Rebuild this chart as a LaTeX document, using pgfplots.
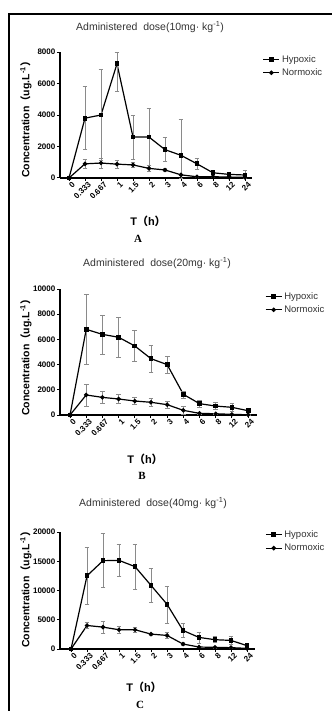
\documentclass[border=0pt]{standalone}
\usepackage{fontspec}
\setmainfont{Liberation Sans}
\newfontfamily\cjk{Noto Sans CJK SC}
\newfontfamily\serifb{Liberation Serif}
\usepackage{pgfplots}
\pgfplotsset{compat=1.18}
\usepackage{pgfplotstable}

\pgfplotstableread{
x hy hep hem no nep nem
0 0 0 0 0 0 0
1 3800 2000 2000 900 260 260
2 4000 2900 2900 950 310 310
3 7250 750 1750 880 250 250
4 2600 1400 1400 830 150 150
5 2600 1800 1800 610 200 200
6 1800 770 770 510 100 100
7 1440 2280 1440 200 60 60
8 900 370 370 80 40 40
9 330 150 150 80 30 30
10 230 110 110 60 30 30
11 190 290 190 40 20 20
}\dataA

\pgfplotstableread{
x hy hep hem no nep nem
0 0 0 0 0 0 0
1 6800 2750 2750 1590 880 880
2 6400 1550 1550 1400 470 470
3 6170 1600 1600 1270 380 380
4 5480 1250 1250 1110 280 280
5 4470 1080 1080 1010 330 330
6 4000 680 680 820 250 250
7 1640 280 280 370 350 350
8 900 250 250 130 40 40
9 710 280 280 100 30 30
10 610 300 300 50 20 20
11 340 100 100 20 10 10
}\dataB

\pgfplotstableread{
x hy hep hem no nep nem
0 0 0 0 0 0 0
1 12520 4800 4800 4020 500 500
2 15100 4700 4600 3740 1050 1050
3 15150 2700 2700 3290 550 550
4 14080 3900 3850 3290 400 400
5 10870 3000 2950 2550 200 200
6 7650 3100 3200 2320 500 500
7 3170 1250 1250 850 300 300
8 1980 950 950 340 100 100
9 1590 500 500 280 80 80
10 1470 650 650 230 60 60
11 570 200 200 110 50 50
}\dataC

\definecolor{txt}{HTML}{333333}
\definecolor{errc}{HTML}{8A8A8A}

\pgfplotsset{
  panel/.style={
    scale only axis,
    axis x line*=bottom, axis y line*=left,
    clip=false,
    ymin=0,
    tick align=outside,
    major tick length=3pt,
    every tick/.style={black, line width=1pt},
    axis line style={black, line width=1.3pt},
    xtick={0,...,11},
    xticklabels={0,0.333,0.667,1,1.5,2,3,4,6,8,12,24},
    xticklabel style={rotate=45, anchor=east, font=\bfseries\fontsize{8}{9}\selectfont, inner sep=0.5pt, yshift=-5pt, xshift=2pt},
    yticklabel style={font=\bfseries\fontsize{8}{9}\selectfont, inner sep=1.5pt},
    scaled y ticks=false,
    /pgf/number format/assume math mode=true,
    /pgf/number format/1000 sep={},
    legend style={draw=none, fill=none, font=\fontsize{9.5}{10}\selectfont\color{txt},
      legend cell align=left, row sep=1pt, anchor=north west, inner sep=1pt},
    legend image code/.code={\draw[mark repeat=2,mark phase=2] plot coordinates {(0pt,0pt)(8pt,0pt)(16pt,0pt)};},
  },
  hyp/.style={black, line width=1.2pt, mark=square*, mark size=1.8pt, mark options={solid},
    error bars/.cd, y dir=both, y explicit,
    error bar style={errc, line width=0.6pt},
    error mark options={errc, rotate=90, mark size=2.4pt, line width=0.6pt}},
  nor/.style={black, line width=1.2pt, mark=*, mark size=1.6pt, mark options={solid},
    error bars/.cd, y dir=both, y explicit,
    error bar style={errc, line width=0.6pt},
    error mark options={errc, rotate=90, mark size=2.4pt, line width=0.6pt}},
}

\begin{document}
\begin{tikzpicture}
\useasboundingbox (0pt,0pt) rectangle (332pt,-711pt);
\clip (0pt,0pt) rectangle (332pt,-711pt);
\fill[white] (0pt,0pt) rectangle (332pt,-711pt);
\draw[black, line width=1.4pt] (9pt,-711pt) -- (9pt,-14pt) -- (332pt,-14pt);

% Panel A
\begin{axis}[panel, at={(60pt,-178pt)}, anchor=south west,
  width=192pt, height=126pt, xmin=-0.5625, xmax=11.4375, ymax=8000,
  ytick={0,2000,4000,6000,8000},
  legend style={at={(axis description cs:1.05,1.0)}}]
\addplot+[hyp] table[x=x, y=hy, y error plus=hep, y error minus=hem] {\dataA};
\addlegendentry{Hypoxic}
\addplot+[nor] table[x=x, y=no, y error plus=nep, y error minus=nem] {\dataA};
\addlegendentry{Normoxic}
\end{axis}
\node[txt, font=\fontsize{10.5}{12}\selectfont] at (150pt,-27pt) {Administered\ \ dose(10mg\textperiodcentered\ kg\textsuperscript{-1})};
\node[rotate=90, font=\bfseries\fontsize{10.5}{12}\selectfont] at (26pt,-117pt) {Concentration{\cjk （}ug.L\textsuperscript{-1}{\cjk ）}};
\node[font=\bfseries\fontsize{11}{12}\selectfont] at (148pt,-221pt) {T{\cjk （}h{\cjk ）}};
\node[font=\serifb\bfseries\fontsize{11}{12}\selectfont] at (138pt,-239pt) {A};

% Panel B
\begin{axis}[panel, at={(60pt,-415pt)}, anchor=south west,
  width=197pt, height=126pt, xmin=-0.62, xmax=11.55, ymax=10000,
  ytick={0,2000,4000,6000,8000,10000},
  legend style={at={(axis description cs:1.035,1.0)}}]
\addplot+[hyp] table[x=x, y=hy, y error plus=hep, y error minus=hem] {\dataB};
\addlegendentry{Hypoxic}
\addplot+[nor] table[x=x, y=no, y error plus=nep, y error minus=nem] {\dataB};
\addlegendentry{Normoxic}
\end{axis}
\node[txt, font=\fontsize{10.5}{12}\selectfont] at (157pt,-263pt) {Administered\ \ dose(20mg\textperiodcentered\ kg\textsuperscript{-1})};
\node[rotate=90, font=\bfseries\fontsize{10.5}{12}\selectfont] at (26pt,-355pt) {Concentration{\cjk （}ug.L\textsuperscript{-1}{\cjk ）}};
\node[font=\bfseries\fontsize{11}{12}\selectfont] at (145pt,-459pt) {T{\cjk （}h{\cjk ）}};
\node[font=\serifb\bfseries\fontsize{11}{12}\selectfont] at (142pt,-476pt) {B};

% Panel C
\begin{axis}[panel, at={(60pt,-649pt)}, anchor=south west,
  width=195pt, height=117pt, xmin=-0.69, xmax=11.5, ymax=20000,
  ytick={0,5000,10000,15000,20000},
  legend style={at={(axis description cs:1.046,1.04)}}]
\addplot+[hyp] table[x=x, y=hy, y error plus=hep, y error minus=hem] {\dataC};
\addlegendentry{Hypoxic}
\addplot+[nor] table[x=x, y=no, y error plus=nep, y error minus=nem] {\dataC};
\addlegendentry{Normoxic}
\end{axis}
\node[txt, font=\fontsize{10.5}{12}\selectfont] at (153pt,-503pt) {Administered\ \ dose(40mg\textperiodcentered\ kg\textsuperscript{-1})};
\node[rotate=90, font=\bfseries\fontsize{10.5}{12}\selectfont] at (26pt,-587pt) {Concentration{\cjk （}ug.L\textsuperscript{-1}{\cjk ）}};
\node[font=\bfseries\fontsize{11}{12}\selectfont] at (144pt,-687pt) {T{\cjk （}h{\cjk ）}};
\node[font=\serifb\bfseries\fontsize{11}{12}\selectfont] at (140pt,-705pt) {C};
\end{tikzpicture}
\end{document}
